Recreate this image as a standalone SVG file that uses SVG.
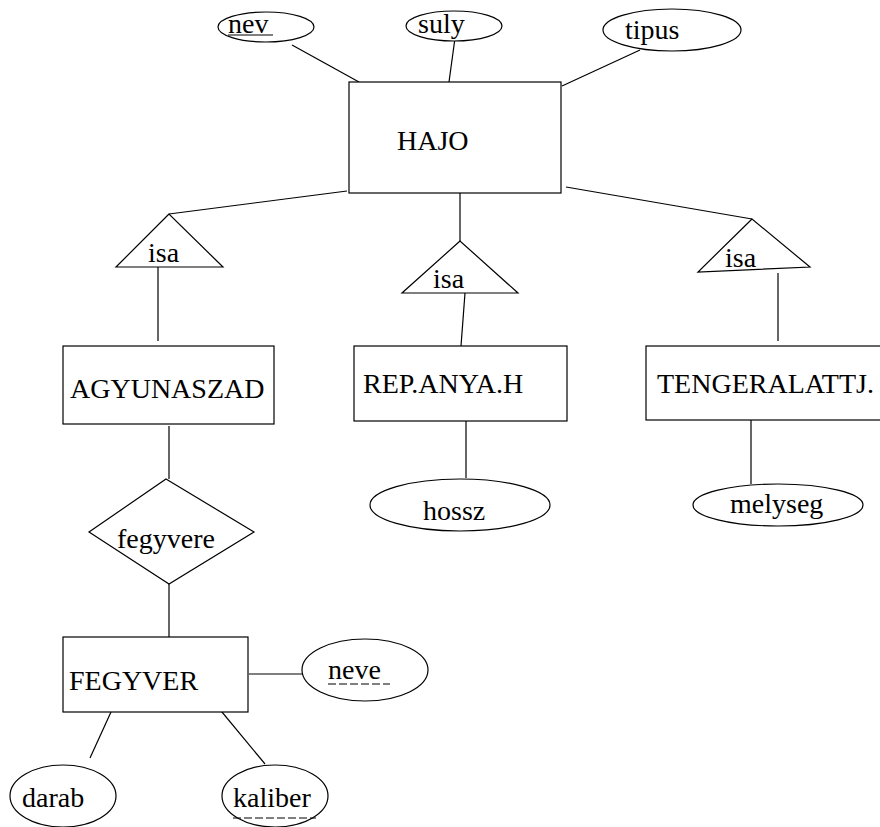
<svg xmlns="http://www.w3.org/2000/svg" width="880" height="827" viewBox="0 0 880 827">
<style>
.s{fill:none;stroke:#000;stroke-width:1.2}
.b{fill:#fff;stroke:#000;stroke-width:1.2}
.t{font-family:"Liberation Serif","Times New Roman",serif;font-size:28px;fill:#000}
.u{stroke:#000;stroke-width:1.2}
.d{stroke:#000;stroke-width:1.2;stroke-dasharray:8 3}
</style>
<rect width="880" height="827" fill="#fff"/>
<g id="connectors" class="s">
<line x1="292" y1="45" x2="359" y2="82"/>
<line x1="455" y1="38" x2="449" y2="82"/>
<line x1="640" y1="50" x2="562" y2="86"/>
<line x1="347" y1="191" x2="169" y2="214"/>
<line x1="460" y1="188" x2="460" y2="241"/>
<line x1="566" y1="187" x2="752" y2="219"/>
<line x1="158" y1="267" x2="158" y2="341"/>
<line x1="465" y1="293" x2="461" y2="346"/>
<line x1="778" y1="273" x2="778" y2="341"/>
<line x1="466" y1="420" x2="466" y2="478"/>
<line x1="751" y1="416" x2="751" y2="484"/>
<line x1="169" y1="426" x2="169" y2="479"/>
<line x1="169" y1="584" x2="169" y2="637"/>
<line x1="249" y1="674" x2="307" y2="674"/>
<line x1="111" y1="712" x2="90" y2="758"/>
<line x1="217" y1="706" x2="265" y2="764"/>
</g>
<g id="nev">
<ellipse class="b" cx="266" cy="27" rx="48" ry="15"/>
<text class="t" x="228" y="33">nev</text>
<line class="u" x1="228" y1="35" x2="273" y2="35"/>
</g>
<g id="suly">
<ellipse class="b" cx="454" cy="26" rx="48" ry="15"/>
<text class="t" x="418" y="33">suly</text>
</g>
<g id="tipus">
<ellipse class="b" cx="672" cy="30" rx="69" ry="21"/>
<text class="t" x="625" y="39">tipus</text>
</g>
<g id="HAJO">
<rect class="b" x="349" y="82" width="212" height="111"/>
<text class="t" x="397" y="150">HAJO</text>
</g>
<g id="isa1">
<polygon class="b" points="169,214 116,267 223,267"/>
<text class="t" x="148" y="262">isa</text>
</g>
<g id="isa2">
<polygon class="b" points="460,241 402,293 518,293"/>
<text class="t" x="433" y="288">isa</text>
</g>
<g id="isa3">
<polygon class="b" points="752,219 698,272 810,267"/>
<text class="t" x="725" y="267">isa</text>
</g>
<g id="AGYUNASZAD">
<rect class="b" x="63" y="346" width="211" height="78"/>
<text class="t" x="70" y="398">AGYUNASZAD</text>
</g>
<g id="REPANYAH">
<rect class="b" x="354" y="346" width="213" height="75"/>
<text class="t" x="363" y="393">REP.ANYA.H</text>
</g>
<g id="TENGERALATTJ">
<rect class="b" x="646" y="346" width="240" height="74"/>
<text class="t" x="657" y="393">TENGERALATTJ.</text>
</g>
<g id="hossz">
<ellipse class="b" cx="460" cy="505" rx="90" ry="26"/>
<text class="t" x="423" y="520">hossz</text>
</g>
<g id="melyseg">
<ellipse class="b" cx="778" cy="505" rx="85" ry="21"/>
<text class="t" x="730" y="513">melyseg</text>
</g>
<g id="fegyvere">
<polygon class="b" points="166,479 254,532 169,584 89,532"/>
<text class="t" x="117" y="548">fegyvere</text>
</g>
<g id="FEGYVER">
<rect class="b" x="63" y="637" width="185" height="75"/>
<text class="t" x="69" y="690">FEGYVER</text>
</g>
<g id="neve">
<ellipse class="b" cx="365" cy="670" rx="63" ry="31"/>
<text class="t" x="328" y="679">neve</text>
<line class="d" x1="328" y1="684" x2="390" y2="684"/>
</g>
<g id="darab">
<ellipse class="b" cx="63" cy="796" rx="53" ry="31"/>
<text class="t" x="22" y="807">darab</text>
</g>
<g id="kaliber">
<ellipse class="b" cx="275" cy="796" rx="53" ry="31"/>
<text class="t" x="233" y="807">kaliber</text>
<line class="d" x1="233" y1="818" x2="316" y2="818"/>
</g>
</svg>
